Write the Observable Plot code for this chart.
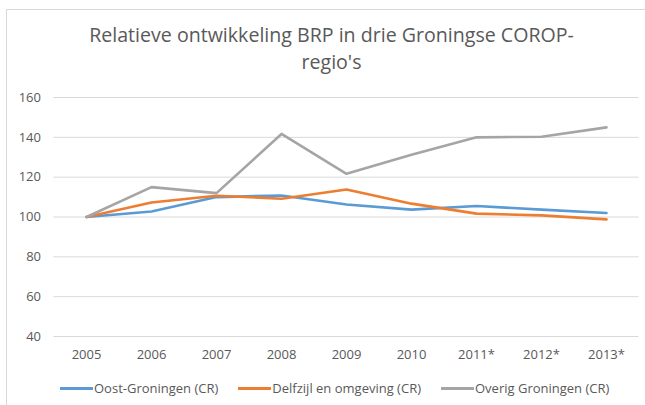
<!DOCTYPE html>
<html>
<head>
<meta charset="utf-8">
<script src="https://cdn.jsdelivr.net/npm/d3@7"></script>
<script src="https://cdn.jsdelivr.net/npm/@observablehq/plot@0.6"></script>
<style>
html, body { margin: 0; padding: 0; background: #fff; }
#wrap { position: relative; width: 645px; height: 405px; overflow: hidden; font-family: "Open Sans", sans-serif; color: #595959; }
#frame { position: absolute; left: 6px; top: 9px; width: 700px; height: 500px; border-left: 1px solid #d9d9d9; border-top: 1px solid #d9d9d9; }
#title { position: absolute; left: 0; top: 21px; width: 663px; text-align: center; font-size: 19.6px; line-height: 27px; white-space: nowrap; }
#chart { position: absolute; left: 0; top: 0; }
#legend { position: absolute; left: 60px; top: 379px; display: flex; align-items: center; font-size: 13px; line-height: 18px; white-space: nowrap; }
#legend .item { display: flex; align-items: center; margin-right: 20px; }
#legend .sw { width: 33px; height: 3px; margin-right: 1px; }
</style>
</head>
<body>
<div id="wrap">
  <div id="frame"></div>
  <div id="chart"></div>
  <div id="title">Relatieve ontwikkeling BRP in drie Groningse COROP-<br>regio's</div>
  <div id="legend"></div>
</div>
<script>
const years = ["2005", "2006", "2007", "2008", "2009", "2010", "2011*", "2012*", "2013*"];
const oostGroningen = [100, 102.8, 110, 110.8, 106.3, 103.7, 105.5, 103.7, 102];
const delfzijl = [100, 107.3, 110.7, 109.2, 113.8, 106.7, 101.7, 100.8, 98.8];
const overigGroningen = [100, 115, 112, 141.7, 121.7, 131.3, 140, 140.3, 145];
const seriesNames = ["Oost-Groningen (CR)", "Delfzijl en omgeving (CR)", "Overig Groningen (CR)"];
const seriesColors = ["#5B9BD5", "#ED7D31", "#A5A5A5"];
const yTicks = [40, 60, 80, 100, 120, 140, 160];

const seriesValues = [oostGroningen, delfzijl, overigGroningen];
const rows = seriesNames.flatMap((s, i) => years.map((y, j) => ({series: s, year: y, value: seriesValues[i][j]})));

const chart = Plot.plot({
  width: 645,
  height: 405,
  marginLeft: 53.5,
  marginRight: 6.5,
  marginTop: 97,
  marginBottom: 69,
  style: {fontFamily: "Open Sans, sans-serif", fontSize: "13px", color: "#595959", background: "transparent", overflow: "visible"},
  x: {type: "point", domain: years, padding: 0.5, label: null},
  y: {domain: [40, 160], label: null},
  color: {domain: seriesNames, range: seriesColors},
  marks: [
    Plot.ruleY(yTicks, {stroke: "#d9d9d9", strokeWidth: 1}),
    Plot.axisY({ticks: yTicks, tickSize: 0, tickPadding: 13, label: null, fill: "#595959"}),
    Plot.axisX({tickSize: 0, tickPadding: 13, label: null, fill: "#595959"}),
    Plot.lineY(rows, {x: "year", y: "value", z: "series", stroke: "series", strokeWidth: 2.6, strokeLinejoin: "round", strokeLinecap: "round"})
  ]
});
document.getElementById("chart").appendChild(chart);

const legend = document.getElementById("legend");
seriesNames.forEach((name, i) => {
  const item = document.createElement("div");
  item.className = "item";
  const sw = document.createElement("span");
  sw.className = "sw";
  sw.style.background = seriesColors[i];
  const label = document.createElement("span");
  label.textContent = name;
  item.appendChild(sw);
  item.appendChild(label);
  legend.appendChild(item);
});
</script>
</body>
</html>
